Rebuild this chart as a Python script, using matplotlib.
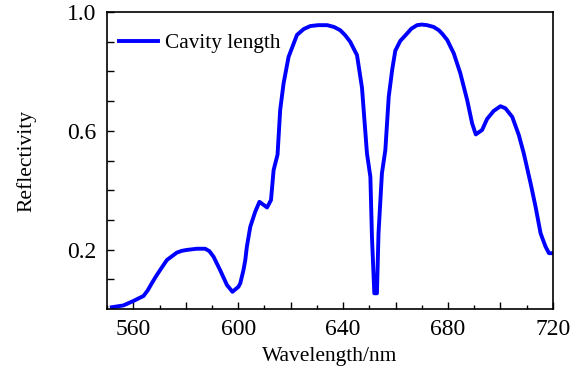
import numpy as np
import matplotlib
matplotlib.use("Agg")
from matplotlib import pyplot as plt
from matplotlib.ticker import MultipleLocator, FixedLocator

# reflectivity spectrum
wavelength = [551.8, 556.2, 560.0, 563.9, 565.5, 567.0, 568.5, 570.2, 572.8, 576.6,
              578.5, 580.4, 582.3, 584.2, 587.4, 589.0, 590.6, 593.1, 595.7, 597.8,
              600.1, 600.8, 602.0, 602.7, 603.3, 604.6, 606.5, 608.1, 611.0, 612.5,
              613.5, 615.0, 616.0, 617.3, 619.2, 622.4, 625.0, 627.5, 630.5, 633.9,
              636.5, 638.9, 640.8, 642.7, 645.3, 647.2, 649.1, 650.4, 651.0, 651.9,
              652.9, 653.5, 654.8, 656.1, 657.4, 658.7, 659.9, 661.8, 664.4, 666.0,
              668.2, 670.0, 672.0, 674.5, 676.5, 678.0, 679.7, 682.2, 684.7, 687.3,
              689.2, 690.6, 693.0, 694.9, 697.4, 700.0, 701.9, 704.5, 707.0, 708.9,
              711.5, 713.4, 715.3, 717.2, 718.5, 719.8]
reflectivity = [0.006, 0.012, 0.027, 0.044, 0.063, 0.086, 0.108, 0.131, 0.165, 0.190,
                0.196, 0.199, 0.201, 0.203, 0.203, 0.195, 0.176, 0.131, 0.081, 0.058,
                0.075, 0.087, 0.131, 0.165, 0.210, 0.277, 0.328, 0.361, 0.342, 0.367,
                0.468, 0.520, 0.670, 0.760, 0.849, 0.923, 0.943, 0.953, 0.956, 0.956,
                0.950, 0.939, 0.922, 0.900, 0.855, 0.745, 0.524, 0.445, 0.243, 0.053,
                0.053, 0.255, 0.457, 0.535, 0.715, 0.805, 0.870, 0.903, 0.928, 0.944,
                0.956, 0.958, 0.956, 0.950, 0.939, 0.925, 0.906, 0.861, 0.794, 0.704,
                0.625, 0.588, 0.603, 0.640, 0.667, 0.683, 0.676, 0.647, 0.586, 0.524,
                0.423, 0.344, 0.255, 0.210, 0.188, 0.188]

x_ticks = [560, 600, 640, 680, 720]
y_labels = [0.2, 0.6, 1.0]

plt.rcParams['font.family'] = ['Liberation Serif', 'DejaVu Serif']

fig = plt.figure(figsize=(5.82, 3.78), dpi=100)
ax = fig.add_axes([0.184, 0.1825, 0.766, 0.7855])

ax.plot(wavelength, reflectivity, color='#0000ff', lw=2.8, label='Cavity length')

ax.xaxis.set_major_locator(MultipleLocator(20))
ax.xaxis.set_minor_locator(MultipleLocator(10))
ax.set_xlim(550, 720)
ax.set_xticks(np.arange(560, 721, 20))
ax.set_xticklabels([str(t) if t in x_ticks else '' for t in range(560, 721, 20)])

yt = np.round(np.arange(0.1, 1.01, 0.1), 1)
ax.yaxis.set_major_locator(FixedLocator(yt))
ax.set_yticklabels(['%.1f' % v if v in y_labels else '' for v in yt])
ax.set_ylim(0, 1.0)

ax.tick_params(direction='in', length=5, width=1, labelsize=17, top=False, right=False)
ax.tick_params(which='minor', direction='in', length=3, width=1, top=False, right=False)
ax.tick_params(axis='x', pad=7)
ax.tick_params(axis='y', pad=8)

for s in ax.spines.values():
    s.set_linewidth(1.2)

ax.set_xlabel('Wavelength/nm', fontsize=15.5, labelpad=5)
ax.set_ylabel('Reflectivity', fontsize=15.5, labelpad=22)

ax.legend(loc='upper left', bbox_to_anchor=(-0.02, 1.0), frameon=False, fontsize=15.3,
          handlelength=1.8, borderaxespad=0.6, handletextpad=0.35, borderpad=0.4)

plt.savefig('out.png', dpi=100)
